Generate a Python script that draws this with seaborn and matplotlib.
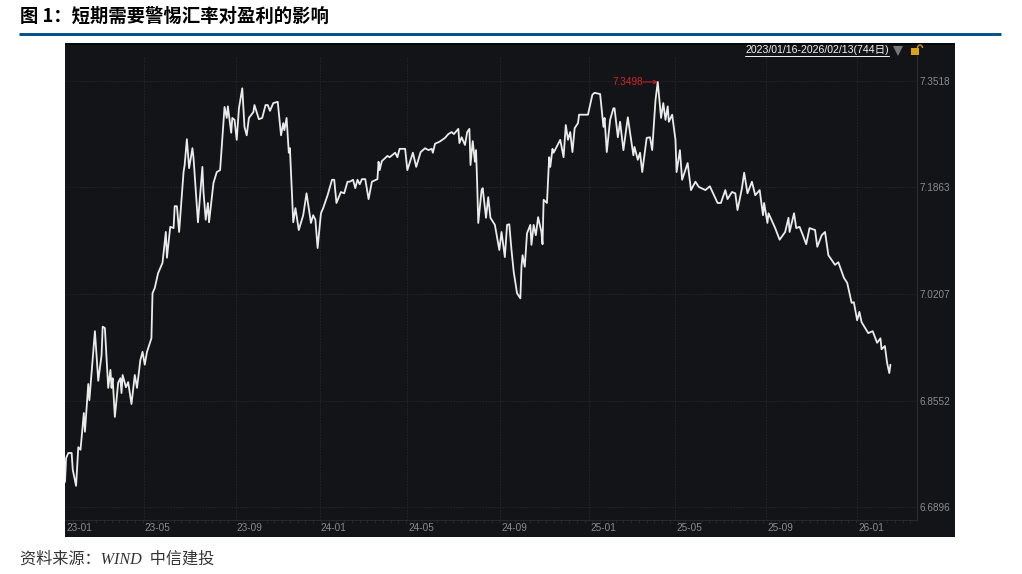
#!/usr/bin/env python3

import pandas as pd
import seaborn as sns
import matplotlib.pyplot as plt
from matplotlib.lines import Line2D
from matplotlib.patches import Arc, Rectangle
from matplotlib.transforms import ScaledTranslation

# trading session number since 2023/01/16 and USD/CNY close
sessions = [
    0, 1, 3, 6, 7, 10, 12, 14, 17, 18, 21, 22, 24, 27, 30, 33, 34, 36, 39, 41,
    42, 43, 45, 48, 50, 51, 52, 55, 57, 60, 63, 65, 68, 70, 72, 74, 78, 79, 81, 84,
    88, 91, 92, 95, 98, 99, 101, 103, 107, 108, 110, 112, 115, 116, 120, 124, 125, 127, 129, 130,
    134, 137, 140, 143, 144, 146, 147, 150, 151, 153, 155, 157, 160, 162, 164, 166, 170, 171, 175, 178,
    181, 183, 185, 188, 192, 195, 197, 198, 200, 202, 203, 206, 208, 211, 215, 218, 222, 224, 226, 228,
    231, 233, 237, 241, 243, 245, 249, 252, 255, 257, 260, 262, 264, 266, 268, 271, 274, 277, 282, 283,
    284, 286, 291, 293, 298, 300, 302, 307, 309, 311, 314, 317, 321, 325, 328, 331, 332, 334, 338, 343,
    346, 349, 351, 355, 356, 358, 361, 363, 365, 366, 368, 370, 371, 372, 373, 376, 377, 380, 382, 384,
    388, 392, 394, 397, 399, 401, 403, 405, 408, 411, 412, 413, 415, 417, 420, 421, 423, 425, 427, 430,
    431, 432, 435, 437, 438, 440, 441, 447, 450, 452, 454, 456, 458, 460, 463, 464, 472, 475, 476, 478,
    483, 486, 487, 489, 492, 495, 496, 499, 501, 504, 508, 513, 514, 517, 519, 521, 525, 528, 530, 531,
    533, 535, 538, 540, 542, 544, 545, 548, 551, 552, 555, 557, 562, 565, 569, 572, 578, 582, 585, 589,
    592, 596, 598, 602, 605, 607, 611, 613, 616, 620, 623, 627, 630, 631, 634, 635, 641, 645, 650, 653,
    654, 658, 660, 663, 666, 669, 672, 677, 679, 683, 686, 689, 695, 698, 703, 706, 710, 712, 715, 717,
    719, 725, 729, 733, 736, 737, 740, 742, 744, 745,
]
rates = [
    6.729, 6.766, 6.774, 6.774, 6.748, 6.723, 6.783, 6.779, 6.836, 6.807, 6.881, 6.856, 6.898, 6.963, 6.886, 6.926, 6.970, 6.968, 6.875, 6.903,
    6.875, 6.890, 6.830, 6.883, 6.890, 6.867, 6.895, 6.876, 6.884, 6.850, 6.895, 6.875, 6.918, 6.931, 6.911, 6.931, 6.952, 7.022, 7.030, 7.053,
    7.069, 7.117, 7.077, 7.125, 7.123, 7.157, 7.157, 7.117, 7.210, 7.221, 7.261, 7.216, 7.247, 7.232, 7.132, 7.218, 7.179, 7.136, 7.162, 7.132,
    7.193, 7.210, 7.213, 7.288, 7.311, 7.294, 7.312, 7.271, 7.294, 7.291, 7.260, 7.309, 7.340, 7.280, 7.267, 7.294, 7.303, 7.314, 7.292, 7.294,
    7.314, 7.314, 7.305, 7.317, 7.319, 7.267, 7.286, 7.275, 7.294, 7.240, 7.247, 7.132, 7.154, 7.120, 7.143, 7.177, 7.131, 7.143, 7.136, 7.092,
    7.146, 7.154, 7.174, 7.198, 7.198, 7.162, 7.179, 7.177, 7.195, 7.195, 7.198, 7.185, 7.198, 7.191, 7.199, 7.199, 7.168, 7.195, 7.199, 7.226,
    7.213, 7.227, 7.235, 7.233, 7.240, 7.233, 7.246, 7.246, 7.213, 7.224, 7.240, 7.218, 7.241, 7.247, 7.244, 7.246, 7.240, 7.254, 7.257, 7.263,
    7.269, 7.272, 7.269, 7.277, 7.255, 7.264, 7.252, 7.272, 7.277, 7.221, 7.258, 7.226, 7.244, 7.193, 7.131, 7.182, 7.185, 7.139, 7.171, 7.139,
    7.128, 7.089, 7.117, 7.078, 7.128, 7.129, 7.089, 7.055, 7.022, 7.014, 7.063, 7.081, 7.063, 7.115, 7.128, 7.097, 7.128, 7.112, 7.140, 7.117,
    7.098, 7.167, 7.162, 7.233, 7.218, 7.246, 7.240, 7.260, 7.233, 7.283, 7.260, 7.272, 7.241, 7.278, 7.286, 7.299, 7.299, 7.322, 7.330, 7.333,
    7.331, 7.280, 7.294, 7.241, 7.291, 7.309, 7.309, 7.264, 7.288, 7.244, 7.295, 7.236, 7.249, 7.229, 7.240, 7.210, 7.263, 7.264, 7.244, 7.271,
    7.322, 7.3498, 7.294, 7.317, 7.291, 7.312, 7.288, 7.299, 7.260, 7.210, 7.244, 7.198, 7.224, 7.182, 7.195, 7.187, 7.182, 7.188, 7.177, 7.162,
    7.162, 7.182, 7.168, 7.179, 7.177, 7.151, 7.185, 7.209, 7.177, 7.195, 7.174, 7.182, 7.143, 7.162, 7.131, 7.146, 7.123, 7.105, 7.117, 7.139,
    7.117, 7.146, 7.123, 7.125, 7.112, 7.098, 7.123, 7.120, 7.094, 7.112, 7.117, 7.081, 7.066, 7.070, 7.046, 7.038, 7.007, 7.008, 6.980, 6.993,
    6.977, 6.960, 6.963, 6.945, 6.952, 6.935, 6.940, 6.914, 6.898, 6.911,
]

month_ticks = [0, 71, 154, 230, 309, 393, 473, 551, 633, 715]
month_labels = ["23-01", "23-05", "23-09", "24-01", "24-05", "24-09", "25-01", "25-05", "25-09", "26-01"]
rate_ticks = [7.3518, 7.1863, 7.0207, 6.8552, 6.6896]

W, H = 1022, 574
PANEL = "#131417"
GRID = "#26272b"
LABEL = "#8b8c90"
LINE = "#ebebeb"
RED = "#d0242c"
CJK = ["Noto Sans CJK SC", "DejaVu Sans"]


def fx(px):
    return px / W


def fy(py):
    return 1 - py / H


sns.set_theme(style="dark")
plt.rcParams["font.family"] = ["Liberation Sans", "Noto Sans CJK SC"]

fig = plt.figure(figsize=(W / 100, H / 100), dpi=100, facecolor="white")

# dark panel behind the plot and the axis labels
fig.add_artist(Rectangle((fx(65), fy(537)), fx(890), 493 / H, transform=fig.transFigure,
                         facecolor=PANEL, edgecolor="none", zorder=-2))
fig.add_artist(Rectangle((fx(65), fy(45)), fx(890), 2 / H, transform=fig.transFigure,
                         facecolor="#08080a", edgecolor="none", zorder=-1))

ax = fig.add_axes([fx(65), fy(520), fx(852), 464 / H])
ax.set_facecolor(PANEL)

df = pd.DataFrame({"session": sessions, "rate": rates})
sns.lineplot(data=df, x="session", y="rate", ax=ax, color=LINE, linewidth=1.3,
             estimator=None, sort=False)

ax.set_xlim(0, 769)
ax.set_ylim(6.6700, 7.3901)
ax.set_xlabel("")
ax.set_ylabel("")

ax.set_xticks(month_ticks)
ax.set_xticklabels(month_labels, ha="left")
ax.set_xticks(range(0, 769, 7), minor=True)
ax.yaxis.tick_right()
ax.set_yticks(rate_ticks)
ax.set_yticklabels([f"{v:.4f}" for v in rate_ticks])
ax.tick_params(axis="x", which="major", length=0, pad=2.5, labelsize=7.2, labelcolor=LABEL)
ax.tick_params(axis="x", which="minor", length=2, color="#2c2d31", width=0.5, bottom=True)
ax.tick_params(axis="y", length=0, pad=2, labelsize=7.2, labelcolor=LABEL)
for tick in ax.xaxis.get_major_ticks():
    tick.label1.set_transform(tick.label1.get_transform()
                              + ScaledTranslation(1 / 100, 0, fig.dpi_scale_trans))

ax.grid(True, axis="both", color=GRID, linewidth=0.7, linestyle=(0, (1.5, 1.5)))
# no gridline at the very first session
ax.xaxis.get_major_ticks()[0].gridline.set_visible(False)
for side in ["top", "left"]:
    ax.spines[side].set_visible(False)
ax.spines["right"].set_color("#2c2d31")
ax.spines["right"].set_linewidth(0.8)
ax.spines["bottom"].set_color("#2c2d31")
ax.spines["bottom"].set_linewidth(0.6)

# highest close marker
ax.annotate("7.3498", xy=(535, 7.3498), xytext=(-10.8, 0), textcoords="offset points",
            color=RED, fontsize=7.2, ha="right", va="center",
            arrowprops=dict(arrowstyle="->", color=RED, linewidth=0.7, patchA=None,
                            relpos=(1, 0.5), shrinkA=0, shrinkB=0, mutation_scale=6))

# range label and controls above the plot
fig.text(fx(745), fy(50), "2023/01/16-2026/02/13(744日)", color="#f2f2f2", fontsize=7.6,
         ha="left", va="center")
fig.add_artist(Line2D([fx(745), fx(889)], [fy(55.5), fy(55.5)], color="#f2f2f2", linewidth=0.7))
fig.add_artist(Line2D([fx(898)], [fy(50.5)], marker="v", markersize=7, color="#77787b",
                      markeredgewidth=0, linestyle="none"))
fig.add_artist(Rectangle((fx(911), fy(55)), fx(8), 7 / H, transform=fig.transFigure,
                         facecolor="#d9a21b", edgecolor="none"))
fig.add_artist(Arc((fx(920), fy(48)), fx(5), 6 / H, theta1=0, theta2=180,
                   transform=fig.transFigure, color="#d9a21b", linewidth=0.9))

# report heading and source line
fig.text(fx(20), fy(16.5), "图 1\uff1a短期需要警惕汇率对盈利的影响", family=CJK, fontsize=13.2,
         fontweight="bold", color="black", ha="left", va="center")
fig.add_artist(Line2D([fx(19), fx(1001)], [fy(33.5), fy(33.5)], color="#004f86", linewidth=2.1,
                      solid_capstyle="butt"))
fig.text(fx(20), fy(560), "资料来源\uff1aWIND  中信建投", family=["Liberation Serif", "Noto Sans CJK SC"],
         style="italic", fontsize=11.6, color="#333333", ha="left", va="center")

fig.savefig("out.png", dpi=100)
plt.close(fig)
